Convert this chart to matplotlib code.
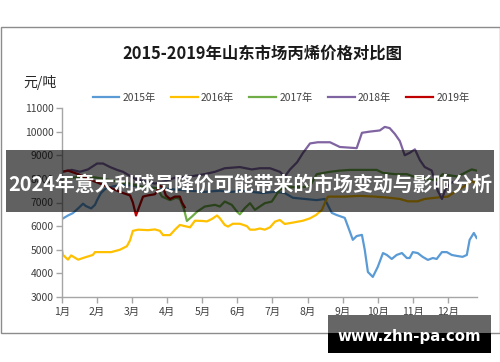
import matplotlib
matplotlib.use('Agg')
import matplotlib.pyplot as plt
from matplotlib.patches import Rectangle

plt.rcParams['font.family'] = ['Noto Sans CJK SC', 'DejaVu Sans']

# x = month position (1.0 = 1月1日), y = 元/吨
m2015 = [1.00, 1.17, 1.31, 1.46, 1.60, 1.68, 1.83, 1.94, 2.00, 2.11, 2.25, 2.51, 2.79, 3.08, 3.36, 3.79,
         4.22, 4.65, 5.07, 5.50, 5.84, 6.13, 6.41, 6.70, 7.07, 7.35, 7.58, 7.92, 8.26, 8.49, 8.69, 8.83,
         9.06, 9.21, 9.29, 9.40, 9.55, 9.63, 9.72, 9.86, 10.00, 10.15, 10.26, 10.40, 10.54, 10.69, 10.83,
         10.91, 11.00, 11.14, 11.28, 11.43, 11.57, 11.68, 11.83, 11.97, 12.11, 12.25, 12.42, 12.54, 12.62,
         12.74, 12.82]
v2015 = [6300, 6450, 6550, 6750, 6950, 6850, 6750, 6900, 7100, 7400, 7600, 7700, 7750, 7700, 7650, 7600,
         7550, 7500, 7450, 7500, 7450, 7500, 7450, 7400, 7450, 7400, 7200, 7150, 7100, 7150, 6560, 6470,
         6350, 5750, 5420, 5580, 5630, 5000, 4060, 3850, 4270, 4860, 4780, 4610, 4780, 4860, 4650,
         4650, 4900, 4860, 4700, 4570, 4650, 4610, 4900, 4900, 4780, 4740, 4700, 4780, 5420,
         5710, 5500]

m2016 = [1.00, 1.03, 1.17, 1.26, 1.46, 1.66, 1.88, 1.94, 2.40, 2.65, 2.85, 2.94, 3.02, 3.17, 3.45, 3.65,
         3.79, 3.88, 4.08, 4.22, 4.36, 4.50, 4.65, 4.79, 4.99, 5.13, 5.27, 5.42, 5.50, 5.64, 5.73, 5.87,
         6.07, 6.27, 6.36, 6.50, 6.64, 6.78, 6.93, 7.07, 7.21, 7.35, 7.58, 7.87, 8.07, 8.24, 8.41, 8.49,
         8.58, 8.72, 9.06, 9.49, 9.92, 10.34, 10.63, 10.86, 11.14, 11.34, 11.63, 12.00, 12.20, 12.48,
         12.68, 12.82]
v2016 = [5000, 4780, 4580, 4760, 4580, 4680, 4780, 4900, 4900, 5000, 5150, 5400, 5800, 5850, 5830, 5860,
         5800, 5620, 5620, 5850, 6050, 6000, 5950, 6230, 6220, 6200, 6300, 6450, 6330, 6050, 5980, 6100,
         6100, 6000, 5850, 5850, 5900, 5850, 5950, 6190, 6260, 6090, 6150, 6230, 6330, 6470, 6690, 6970,
         7250, 7250, 7250, 7280, 7250, 7200, 7150, 7050, 7050, 7150, 7200, 7250, 7450, 7700,
         7900, 7800]

m2017 = [1.00, 1.28, 1.66, 2.00, 2.37, 2.65, 2.94, 3.31, 3.71, 3.85, 4.08, 4.25, 4.36, 4.48, 4.56, 4.70,
         4.85, 5.07, 5.36, 5.50, 5.64, 5.84, 5.99, 6.07, 6.21, 6.36, 6.50, 6.64, 6.78, 6.98, 7.21, 7.50,
         7.87, 8.07, 8.26, 8.64, 8.92, 9.21, 9.63, 9.97, 10.15, 10.49, 10.83, 11.06, 11.28, 11.48, 11.68,
         11.85, 12.05, 12.28, 12.54, 12.68, 12.82]
v2017 = [8000, 8050, 8100, 8050, 7950, 7850, 7800, 7650, 7600, 7250, 7100, 7200, 7150, 6700, 6220, 6400,
         6610, 6830, 6900, 6830, 7040, 6900, 6610, 6500, 6760, 6970, 6690, 6830, 6970, 7040, 7550, 7650,
         7650, 7700, 8200, 8300, 8350, 8380, 8380, 8380, 8250, 8200, 8200, 8080, 8050, 7960, 7960,
         8200, 8150, 8100, 8300, 8400, 8350]

m2018 = [1.00, 1.28, 1.51, 1.74, 2.00, 2.17, 2.37, 2.57, 2.74, 2.85, 3.08, 3.36, 3.65, 3.93, 4.22, 4.65,
         5.07, 5.36, 5.64, 6.07, 6.41, 6.64, 6.93, 7.21, 7.35, 7.50, 7.70, 7.87, 8.07, 8.29, 8.64, 8.92,
         9.40, 9.55, 9.77, 10.06, 10.20, 10.34, 10.49, 10.63, 10.77, 10.91, 11.06, 11.20, 11.34, 11.54,
         11.71, 11.83, 11.94, 12.11, 12.28]
v2018 = [8300, 8380, 8300, 8400, 8650, 8650, 8500, 8380, 8300, 8200, 8000, 7900, 7800, 7900, 8050, 8100,
         8200, 8300, 8450, 8500, 8400, 8450, 8450, 8300, 8100, 8400, 8700, 9100, 9500, 9550, 9550, 9350,
         9300, 9950, 10000, 10050, 10200, 10150, 9900, 9600, 9000, 9100, 9250, 8800, 8500, 8350,
         7500, 7150, 7600, 7850, 7900]

m2019 = [1.00, 1.17, 1.46, 1.74, 2.00, 2.25, 2.57, 2.74, 2.94, 3.02, 3.11, 3.22, 3.31, 3.45, 3.65, 3.79,
         3.88, 3.96, 4.08, 4.22, 4.36, 4.42, 4.50]
v2019 = [8300, 8350, 8200, 8000, 7850, 7700, 7500, 7400, 7300, 7000, 6450, 6900, 7250, 7300, 7350, 7700,
         7650, 7300, 7150, 7250, 7250, 7000, 6800]

series = [('2015年', m2015, v2015, '#5B9BD5'),
          ('2016年', m2016, v2016, '#FFC000'),
          ('2017年', m2017, v2017, '#70AD47'),
          ('2018年', m2018, v2018, '#8064A2'),
          ('2019年', m2019, v2019, '#C00000')]

months = [1, 2, 3, 4, 5, 6, 7, 8, 9, 10, 11, 12]
month_labels = [str(i) + '月' for i in months]
yticks = [3000, 4000, 5000, 6000, 7000, 8000, 9000, 10000, 11000]

fig = plt.figure(figsize=(5, 3.62), dpi=100)
fig.patch.set_facecolor('white')

# outer chart frame
fig.patches.append(Rectangle((0.001, 1 - 333 / 362), 0.998, 306 / 362, transform=fig.transFigure,
                             facecolor='white', edgecolor='#8c8c8c', linewidth=1, zorder=-2))

ax = fig.add_axes([62 / 500, 1 - 297 / 362, 415 / 500, 189 / 362])
ax.set_zorder(1)
ax.set_facecolor('none')
for name, mx, vy, col in series:
    ax.plot(mx, vy, color=col, linewidth=1.6, label=name)

ax.set_xlim(1, 12.83)
ax.set_ylim(3000, 11000)
ax.set_xticks(months)
ax.set_xticklabels(month_labels)
ax.set_yticks(yticks)
for s in ['top', 'right']:
    ax.spines[s].set_visible(False)
for s in ['left', 'bottom']:
    ax.spines[s].set_color('#a6a6a6')
    ax.spines[s].set_linewidth(1)
ax.tick_params(axis='both', colors='#a6a6a6', labelcolor='#404040', labelsize=7.5, length=4, width=1)
ax.tick_params(axis='x', pad=3)
ax.tick_params(axis='y', pad=2)

fig.text(262 / 500, 1 - 54 / 362, '2015-2019年山东市场丙烯价格对比图', ha='center', va='center',
         fontsize=11.8, fontweight='bold', color='#1a1a1a')
fig.text(23 / 500, 1 - 83 / 362, '元/吨', ha='left', va='center', fontsize=10, color='#262626')

fig.legend(loc='center', bbox_to_anchor=(281 / 500, 1 - 98 / 362), ncol=5, frameon=False,
           fontsize=7.4, handlelength=2.6, handletextpad=0.3, columnspacing=1.5,
           labelcolor='#404040')

# dark banner with headline
banner = Rectangle((6 / 500, 1 - 212 / 362), 488 / 500, 62 / 362, transform=fig.transFigure,
                   facecolor='black', alpha=0.62, edgecolor='none', zorder=5)
fig.patches.append(banner)
fig.text(250 / 500, 1 - 184 / 362, '2024年意大利球员降价可能带来的市场变动与影响分析', ha='center', va='center',
         fontsize=14.3, fontweight='bold', color='white', zorder=6)

# site watermark
fig.patches.append(Rectangle((328 / 500, 1 - 333 / 362), 163 / 500, 18 / 362, transform=fig.transFigure,
                             facecolor='#666666', edgecolor='none', zorder=5))
fig.patches.append(Rectangle((328 / 500, 1 - 353 / 362), 163 / 500, 20 / 362, transform=fig.transFigure,
                             facecolor='black', edgecolor='none', zorder=5))
fig.text(409 / 500, 1 - 337 / 362, 'www.zhn-pa.com', ha='center', va='center', family='DejaVu Sans',
         fontsize=10.8, fontweight='bold', color='white', zorder=6)

fig.savefig('out.png', dpi=100)
